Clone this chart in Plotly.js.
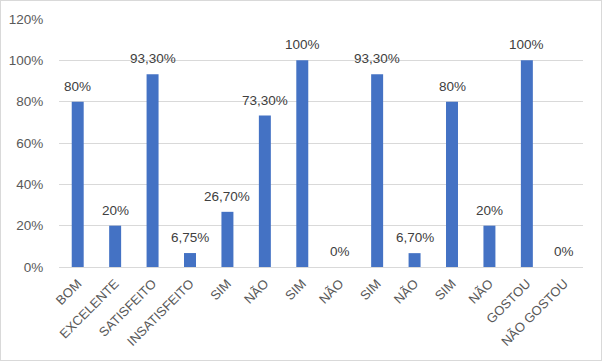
<!DOCTYPE html>
<html>
<head>
<meta charset="utf-8">
<script src="https://cdn.plot.ly/plotly-3.0.1.min.js"></script>
<style>
html,body{margin:0;padding:0;background:#fff;}
#chart{width:600px;height:359px;border:1px solid #d9d9d9;}
</style>
</head>
<body>
<div id="chart"></div>
<script>
var categories = ["BOM","EXCELENTE","SATISFEITO","INSATISFEITO","SIM","NÃO","SIM","NÃO","SIM","NÃO","SIM","NÃO","GOSTOU","NÃO GOSTOU"];
var values = [80, 20, 93.3, 6.75, 26.7, 73.3, 100, 0, 93.3, 6.7, 80, 20, 100, 0];
var valueLabels = ["80%","20%","93,30%","6,75%","26,70%","73,30%","100%","0%","93,30%","6,70%","80%","20%","100%","0%"];
var yTickVals = [0, 20, 40, 60, 80, 100, 120];
var yTickText = ["0%","20%","40%","60%","80%","100%","120%"];

var positions = categories.map(function(_, i){ return i; });

var trace = {
  type: 'bar',
  x: positions,
  y: values,
  marker: {color: '#4472C4'},
  hoverinfo: 'none'
};

var annotations = positions.map(function(p, i){
  return {
    x: p, y: values[i], xref: 'x', yref: 'y',
    text: valueLabels[i], showarrow: false,
    yanchor: 'bottom', yshift: 6,
    font: {family: 'Liberation Sans, Arial, sans-serif', size: 13.5, color: '#404040'}
  };
});

var layout = {
  width: 600,
  height: 359,
  margin: {l: 58, r: 18, t: 18, b: 93},
  paper_bgcolor: '#ffffff',
  plot_bgcolor: '#ffffff',
  bargap: 0.68,
  showlegend: false,
  annotations: annotations,
  font: {family: 'Liberation Sans, Arial, sans-serif', size: 13, color: '#595959'},
  xaxis: {
    tickmode: 'array',
    tickvals: positions,
    ticktext: categories,
    tickangle: -45,
    range: [-0.5, categories.length - 0.5],
    showgrid: false,
    zeroline: false,
    showline: true,
    linecolor: '#d9d9d9',
    linewidth: 1,
    ticks: 'outside',
    ticklen: 3,
    tickcolor: 'rgba(0,0,0,0)',
    tickfont: {size: 13, color: '#595959'}
  },
  yaxis: {
    range: [0, 120],
    tickmode: 'array',
    tickvals: yTickVals,
    ticktext: yTickText,
    showgrid: true,
    gridcolor: '#d9d9d9',
    gridwidth: 1,
    zeroline: false,
    showline: false,
    ticks: 'outside',
    ticklen: 12,
    tickcolor: 'rgba(0,0,0,0)',
    tickfont: {size: 13.5, color: '#595959'}
  }
};

Plotly.newPlot('chart', [trace], layout, {displayModeBar: false, staticPlot: true});
</script>
</body>
</html>
